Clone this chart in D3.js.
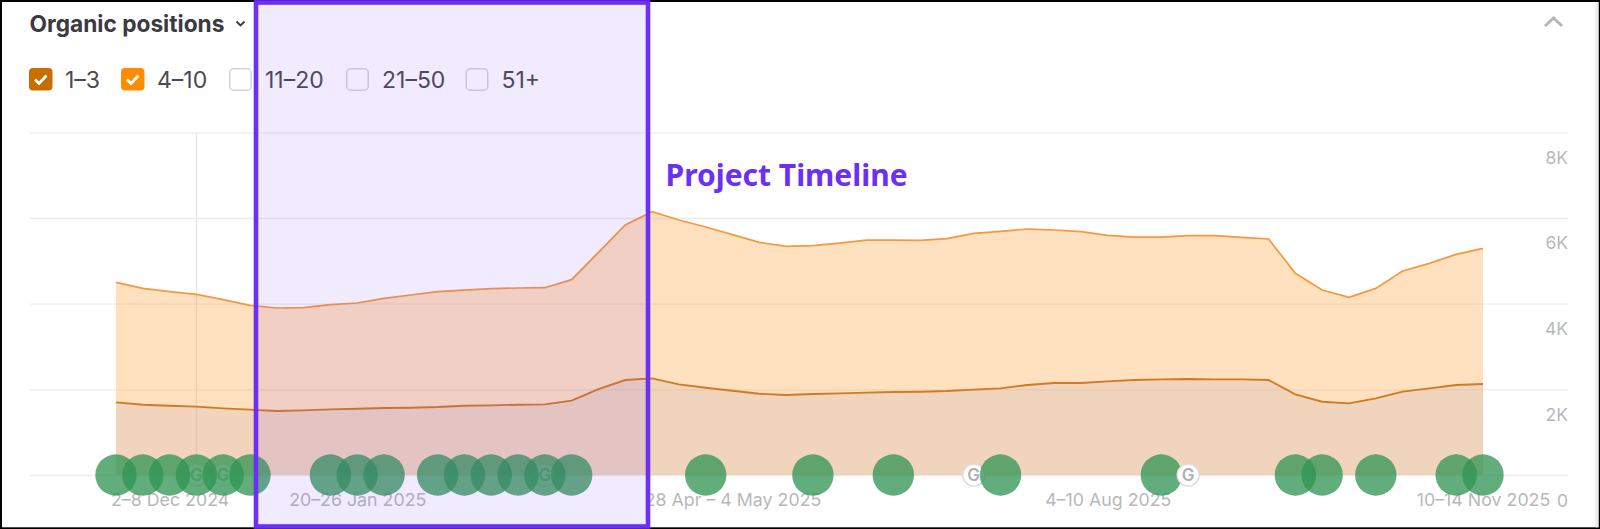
<!DOCTYPE html>
<html>
<head>
<meta charset="utf-8">
<script src="https://cdn.jsdelivr.net/npm/d3@7/dist/d3.min.js"></script>
<style>
	html, body { margin:0; padding:0; background:#000; overflow:hidden; }
	svg { display:block; font-family:Inter, sans-serif; }
</style>
</head>
<body>
<svg id="chart" width="1600" height="529"></svg>
<script>
// week index 0 is 18-24 Nov 2024, last one is 10-14 Nov 2025
var top4to10 = [4498,4357,4280,4217,4093,3960,3898,3906,3976,4015,4124,4202,4280,4318,4349,4365,4372,4560,5198,5836,
	6147,5952,5789,5610,5431,5338,5353,5415,5485,5485,5478,5517,5641,5688,5742,5719,5680,5594,5555,5555,
	5587,5587,5548,5509,4708,4318,4148,4357,4762,4941,5151,5291];
var top1to3 = [1696,1641,1618,1595,1556,1525,1494,1509,1533,1548,1564,1571,1587,1618,1626,1641,1649,1735,2007,2217,
	2256,2116,2038,1968,1898,1867,1890,1906,1922,1937,1945,1960,1992,2023,2101,2147,2147,2186,2217,2233,
	2241,2233,2233,2217,1883,1711,1673,1789,1945,2023,2101,2124];

var tickWeeks = [2,9,23,37,51];
var tickLabels = ["2–8 Dec 2024","20–26 Jan 2025","28 Apr – 4 May 2025","4–10 Aug 2025","10–14 Nov 2025"];
var yTicks = [0,2000,4000,6000,8000];

var noteWeeks = [0,1,2,3,4,5,8,9,10,12,13,14,15,16,17,22,26,29,33,39,44,45,47,50,51];
var googleUnder = [3,4,16,32];
var googleOver = [40];

var legendLabels = ["1–3","4–10","11–20","21–50","51+"];
var legendChecked = [true,true,false,false,false];
var legendColors = ["#c96d00","#ff8c00",null,null,null];
var legendBoxX = [29,121,229,346,465.5];

var svg = d3.select("#chart");

var x = d3.scaleLinear().domain([0,51]).range([116,1483]);
var y = d3.scaleLinear().domain([0,8000]).range([475,132.3]);

// frame
svg.append("rect").attr("x",2).attr("y",2).attr("width",1596.5).attr("height",525.3).attr("fill","#fff");
svg.append("rect").attr("x",1595.5).attr("y",2).attr("width",3).attr("height",525.3).attr("fill","#ececec");

// header
svg.append("text").attr("x",29.5).attr("y",32).attr("font-size",22.7).attr("font-weight",700)
	.attr("fill","#3a3a40").text("Organic positions");
svg.append("path").attr("d","M236.5 21.5l4 4l4 -4").attr("fill","none").attr("stroke","#3a3a40").attr("stroke-width",1.8);
svg.append("path").attr("d","M1545 26l8.5 -8l8.5 8").attr("fill","none").attr("stroke","#b5b5b5").attr("stroke-width",3);

// legend
var legend = svg.selectAll(".legendItem").data(legendLabels).enter().append("g")
	.attr("class","legendItem")
	.attr("transform",function(d,i){ return "translate("+legendBoxX[i]+",68)"; });
legend.append("rect")
	.attr("x",function(d,i){ return legendChecked[i] ? 0 : 0.75; })
	.attr("y",function(d,i){ return legendChecked[i] ? 0 : 0.75; })
	.attr("width",function(d,i){ return legendChecked[i] ? 23.5 : 21.5; })
	.attr("height",function(d,i){ return legendChecked[i] ? 22.5 : 21.5; })
	.attr("rx",4)
	.attr("fill",function(d,i){ return legendChecked[i] ? legendColors[i] : "#fff"; })
	.attr("stroke",function(d,i){ return legendChecked[i] ? "none" : "#d4d4d8"; })
	.attr("stroke-width",1.5);
legend.filter(function(d,i){ return legendChecked[i]; }).append("path")
	.attr("d","M6 11.5l4 4l7.5 -8").attr("fill","none").attr("stroke","#fff").attr("stroke-width",2.8);
legend.append("text")
	.attr("x",36)
	.attr("y",20)
	.attr("font-size",23)
	.attr("fill","#4a4a50")
	.text(function(d){ return d; });

// axes
var yAxis = d3.axisRight(y).tickValues(yTicks).tickSize(1568-30)
	.tickFormat(function(d){ return d==0 ? "0" : (d/1000)+"K"; });
var yG = svg.append("g").attr("transform","translate(30,0)").call(yAxis);
yG.select(".domain").remove();
yG.selectAll("line").attr("stroke","#ececee").attr("stroke-width",1.3);
yG.selectAll("text").attr("x",1568-30).attr("dy",0).attr("y",31).attr("text-anchor","end")
	.attr("font-size",17.5).attr("font-family","Inter, sans-serif").attr("fill","#b8b8bc");

var xAxis = d3.axisBottom(x).tickValues(tickWeeks).tickSize(0)
	.tickFormat(function(d,i){ return tickLabels[i]; });
var xG = svg.append("g").attr("transform","translate(0,475)").call(xAxis);
xG.select(".domain").remove();
xG.selectAll("text").attr("y",31).attr("dy",0)
	.attr("font-size",17.8).attr("font-family","Inter, sans-serif").attr("fill","#b8b8bc");

// crosshair
svg.append("line").attr("x1",x(3)).attr("x2",x(3)).attr("y1",y(8000)).attr("y2",y(0))
	.attr("stroke","#e6e6e8").attr("stroke-width",1.3);

// areas, the lower one sits on the upper
var areaOf = function(vals){
	return d3.area().x(function(d,i){ return x(i); }).y0(y(0)).y1(function(d){ return y(d); })(vals);
};
var lineOf = function(vals){
	return d3.line().x(function(d,i){ return x(i); }).y(function(d){ return y(d); })(vals);
};
svg.append("path").attr("d",areaOf(top4to10)).attr("fill","#ff8f18").attr("fill-opacity",0.28);
svg.append("path").attr("d",areaOf(top1to3)).attr("fill","#b4a6b0").attr("fill-opacity",0.2);
svg.append("path").attr("d",lineOf(top4to10)).attr("fill","none").attr("stroke","#f7983a").attr("stroke-width",1.7);
svg.append("path").attr("d",lineOf(top1to3)).attr("fill","none").attr("stroke","#d17a24").attr("stroke-width",1.9);

// markers
var drawGoogle = function(weeks){
	var g = svg.append("g").selectAll("g").data(weeks).enter().append("g")
		.attr("transform",function(d){ return "translate("+x(d)+","+y(0)+")"; });
	g.append("circle").attr("r",11).attr("fill","#fff").attr("stroke","#dcdcdc").attr("stroke-width",1.4);
	g.append("text").attr("text-anchor","middle").attr("dy",6).attr("font-size",17).attr("font-weight",600)
		.attr("fill","#b0b0b0").text("G");
};
drawGoogle(googleUnder);
svg.append("g").selectAll("circle").data(noteWeeks).enter().append("circle")
	.attr("cx",function(d){ return x(d); })
	.attr("cy",y(0))
	.attr("r",20.7)
	.attr("fill","#2f9553")
	.attr("fill-opacity",0.76);
drawGoogle(googleOver);

// project window on top of everything
svg.append("rect").attr("x",256).attr("y",2.5).attr("width",392).attr("height",524)
	.attr("fill","#7a3cff").attr("fill-opacity",0.1)
	.attr("stroke","#6b2ff5").attr("stroke-width",4.6);
svg.append("text").attr("x",665.5).attr("y",186).attr("font-family","'Noto Sans', sans-serif")
	.attr("font-size",30).attr("font-weight",700).attr("fill","#6b2ff5").text("Project Timeline");
</script>
</body>
</html>
